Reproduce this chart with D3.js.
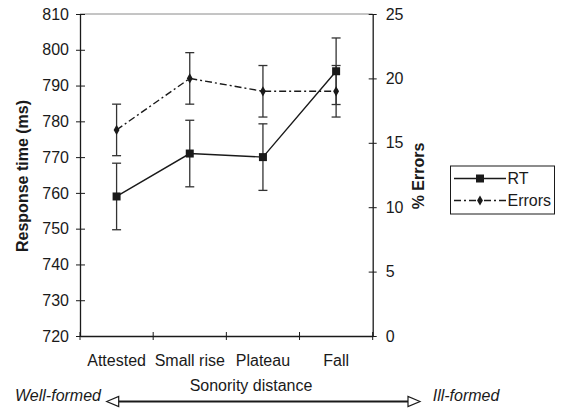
<!DOCTYPE html>
<html><head><meta charset="utf-8">
<script src="https://cdn.jsdelivr.net/npm/d3@7"></script>
<style>
html,body{margin:0;padding:0;background:#fff;}
text{font-family:"Liberation Sans",Arial,sans-serif;fill:#1a1a1a;}
</style></head>
<body>
<svg id="chart" width="561" height="408"></svg>
<script>
const categories = ["Attested", "Small rise", "Plateau", "Fall"];
const rtValues = [759, 771, 770, 794];
const rtErr = [9.3, 9.3, 9.3, 9.3];
const errorValues = [16, 20, 19, 19];
const errorErr = [2, 2, 2, 2];
const leftTicks = [720, 730, 740, 750, 760, 770, 780, 790, 800, 810];
const rightTicks = [0, 5, 10, 15, 20, 25];
const seriesNames = ["RT", "Errors"];

const svg = d3.select("#chart");
const X0 = 80, X1 = 372.7, Y0 = 336, Y1 = 14;
const ink = "#1a1a1a";

const x = d3.scaleBand().domain(categories).range([X0, X1]).padding(0);
const cx = c => x(c) + x.bandwidth() / 2;
const yL = d3.scaleLinear().domain([720, 810]).range([Y0, Y1]);
const yR = d3.scaleLinear().domain([0, 25]).range([Y0, Y1]);

// top border
svg.append("line").attr("x1", X0).attr("x2", X1).attr("y1", Y1).attr("y2", Y1)
  .attr("stroke", "#8a8a8a").attr("stroke-width", 1);

// left axis
const gL = svg.append("g").attr("transform", `translate(${X0},0)`)
  .call(d3.axisLeft(yL).tickValues(leftTicks).tickSize(4).tickPadding(7).tickSizeOuter(0));
gL.selectAll(".tick line").attr("x1", 5).attr("x2", -4);
// right axis
const gR = svg.append("g").attr("transform", `translate(${X1},0)`)
  .call(d3.axisRight(yR).tickValues(rightTicks).tickSize(4).tickPadding(9).tickSizeOuter(0));
gR.selectAll(".tick line").attr("x1", -4).attr("x2", 4);
// bottom axis
const gB = svg.append("g").attr("transform", `translate(0,${Y0})`)
  .call(d3.axisBottom(x).tickValues([]).tickSizeOuter(0));
const bTicks = x.domain().map(c => x(c)).concat([X1]);
gB.selectAll("line.bt").data(bTicks).enter().append("line").attr("class", "bt")
  .attr("x1", d => d).attr("x2", d => d).attr("y1", -4).attr("y2", 4).attr("stroke", ink);
gB.selectAll("text.bl").data(categories).enter().append("text").attr("class", "bl")
  .attr("x", d => cx(d)).attr("y", 30).attr("text-anchor", "middle")
  .style("font-size", "16px").text(d => d);

[gL, gR, gB].forEach(g => {
  g.select(".domain").attr("stroke", ink).attr("stroke-width", 1.3);
  g.selectAll(".tick line").attr("stroke", ink);
  g.selectAll(".tick text").style("font-size", "16px").attr("fill", ink)
    .style("font-family", "'Liberation Sans', Arial, sans-serif");
});

// axis titles
svg.append("text").attr("transform", "translate(28,176) rotate(-90)")
  .attr("text-anchor", "middle").style("font-size", "16px").style("font-weight", "bold")
  .text("Response time (ms)");
svg.append("text").attr("transform", "translate(424,176) rotate(-90)")
  .attr("text-anchor", "middle").style("font-size", "16px").style("font-weight", "bold")
  .text("% Errors");
svg.append("text").attr("x", 251).attr("y", 391).attr("text-anchor", "middle")
  .style("font-size", "16px").text("Sonority distance");

// error bars
function errBars(vals, errs, scale) {
  const g = svg.append("g").attr("stroke", "#333").attr("stroke-width", 1.3);
  categories.forEach((c, i) => {
    const xc = cx(c), hi = scale(vals[i] + errs[i]), lo = scale(vals[i] - errs[i]);
    g.append("line").attr("x1", xc).attr("x2", xc).attr("y1", hi).attr("y2", lo);
    g.append("line").attr("x1", xc - 4.5).attr("x2", xc + 4.5).attr("y1", hi).attr("y2", hi);
    g.append("line").attr("x1", xc - 4.5).attr("x2", xc + 4.5).attr("y1", lo).attr("y2", lo);
  });
}
errBars(errorValues, errorErr, yR);
errBars(rtValues, rtErr, yL);

const dash = "7,3,2,3";
// lines
const lineR = d3.line().x((d, i) => cx(categories[i])).y(d => yR(d));
svg.append("path").attr("d", lineR(errorValues)).attr("fill", "none")
  .attr("stroke", ink).attr("stroke-width", 1.4).attr("stroke-dasharray", dash);
const lineL = d3.line().x((d, i) => cx(categories[i])).y(d => yL(d));
svg.append("path").attr("d", lineL(rtValues)).attr("fill", "none")
  .attr("stroke", ink).attr("stroke-width", 1.4);

const sq = d3.symbol().type(d3.symbolSquare).size(64);
const dia = d3.symbol().type(d3.symbolDiamond).size(30);
svg.selectAll("path.dm").data(errorValues).enter().append("path").attr("class", "dm")
  .attr("d", dia).attr("fill", ink)
  .attr("transform", (d, i) => `translate(${cx(categories[i])},${yR(d)})`);
svg.selectAll("path.sq").data(rtValues).enter().append("path").attr("class", "sq")
  .attr("d", sq).attr("fill", ink)
  .attr("transform", (d, i) => `translate(${cx(categories[i])},${yL(d)})`);

// legend
const lg = svg.append("g");
lg.append("rect").attr("x", 450.5).attr("y", 166).attr("width", 104).attr("height", 48)
  .attr("fill", "#fff").attr("stroke", ink).attr("stroke-width", 1);
const rows = [178.5, 200.5];
seriesNames.forEach((n, i) => {
  const yy = rows[i];
  lg.append("line").attr("x1", 454).attr("x2", 506).attr("y1", yy).attr("y2", yy)
    .attr("stroke", ink).attr("stroke-width", 1.4)
    .attr("stroke-dasharray", i === 1 ? dash : null);
  lg.append("path").attr("d", i === 0 ? sq : dia).attr("fill", ink)
    .attr("transform", `translate(480,${yy})`);
  lg.append("text").attr("x", 507.5).attr("y", yy + 5.5).style("font-size", "16px").text(n);
});

// bottom arrow
const ay = 401.5, aL = 106.7, aR = 420;
svg.append("line").attr("x1", aL + 11).attr("x2", aR - 11).attr("y1", ay).attr("y2", ay)
  .attr("stroke", ink).attr("stroke-width", 2.2);
svg.append("path").attr("d", `M${aL},${ay} L${aL + 12},${ay - 5} L${aL + 12},${ay + 5} Z`)
  .attr("fill", "#fff").attr("stroke", ink).attr("stroke-width", 1.2);
svg.append("path").attr("d", `M${aR},${ay} L${aR - 12},${ay - 5} L${aR - 12},${ay + 5} Z`)
  .attr("fill", "#fff").attr("stroke", ink).attr("stroke-width", 1.2);
svg.append("text").attr("x", 101).attr("y", 401).attr("text-anchor", "end")
  .style("font-size", "16px").style("font-style", "italic").text("Well-formed");
svg.append("text").attr("x", 432.7).attr("y", 401)
  .style("font-size", "16px").style("font-style", "italic").text("Ill-formed");
</script>
</body></html>
